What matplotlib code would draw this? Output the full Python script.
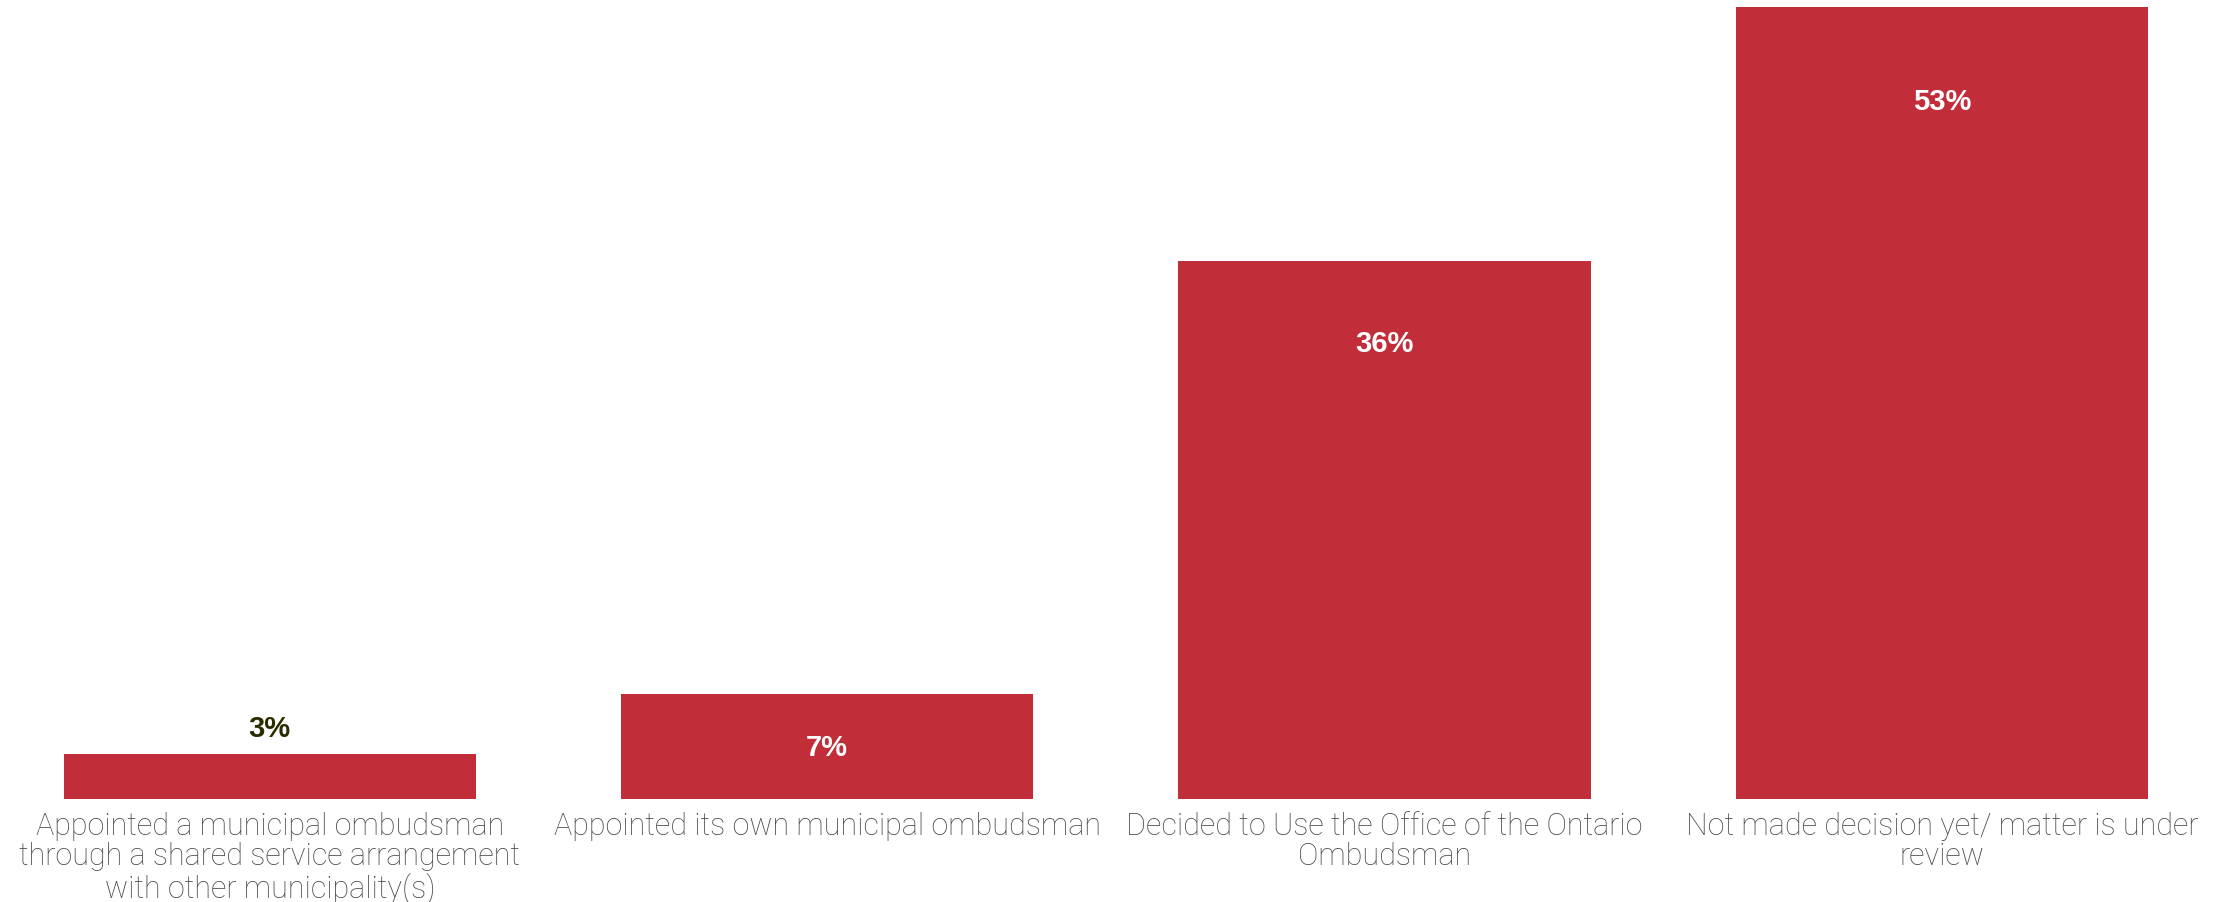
import matplotlib
matplotlib.use("Agg")
import matplotlib.pyplot as plt

categories = [
    "Appointed a municipal ombudsman\nthrough a shared service arrangement\nwith other municipality(s)",
    "Appointed its own municipal ombudsman",
    "Decided to Use the Office of the Ontario\nOmbudsman",
    "Not made decision yet/ matter is under\nreview",
]
values = [3, 7, 36, 53]
value_labels = ["3%", "7%", "36%", "53%"]

BAR_COLOR = "#C12E39"
CAT_COLOR = "#4A4A4A"
OUTSIDE_COLOR = "#2B2B00"

fig = plt.figure(figsize=(22.24, 9.03), dpi=100)
ax = fig.add_axes([0, 1 - 800 / 903, 1, (800 - 8) / 903])

x = list(range(len(values)))
bars = ax.bar(x, values, width=0.74, color=BAR_COLOR, edgecolor="none")

ax.set_xlim(-0.484, 3.506)
ax.set_ylim(0, 53)

for spine in ax.spines.values():
    spine.set_visible(False)
ax.set_yticks([])
ax.set_xticks(x)
ax.set_xticklabels(categories, fontsize=22, color=CAT_COLOR,
                   family=["Roboto", "DejaVu Sans"], fontweight="light")
for lab in ax.get_xticklabels():
    lab.set_linespacing(1.04)
ax.tick_params(axis="x", length=0, pad=9)

label_font = dict(family=["Liberation Sans", "DejaVu Sans"], fontweight="bold", fontsize=21)
for rect, v, txt in zip(bars, values, value_labels):
    cx = rect.get_x() + rect.get_width() / 2
    if v >= 20:
        # inside the top of tall bars, a little deeper for taller ones
        ax.annotate(txt, (cx, v), xytext=(0, -(40 + 0.52 * v)), textcoords="offset points",
                    ha="center", va="center", color="white", **label_font)
    elif v >= 5:
        ax.text(cx, v / 2, txt, ha="center", va="center", color="white", **label_font)
    else:
        ax.annotate(txt, (cx, v), xytext=(0, 19), textcoords="offset points",
                    ha="center", va="center", color=OUTSIDE_COLOR, **label_font)

fig.savefig("out.png", dpi=100, facecolor="white")
